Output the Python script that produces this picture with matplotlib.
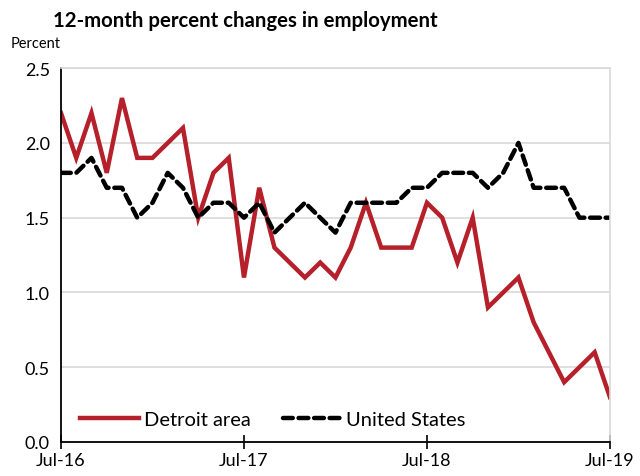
import matplotlib.pyplot as plt
import numpy as np

# Meses: Jul-16 a Jul-19 (37 puntos mensuales)
meses = np.arange(37)
etiquetas_x = ['Jul-16', 'Jul-17', 'Jul-18', 'Jul-19']
pos_etiquetas = [0, 12, 24, 36]

detroit = [2.2, 1.9, 2.2, 1.8, 2.3, 1.9, 1.9, 2.0, 2.1, 1.5, 1.8, 1.9,
           1.1, 1.7, 1.3, 1.2, 1.1, 1.2, 1.1, 1.3, 1.6, 1.3, 1.3, 1.3,
           1.6, 1.5, 1.2, 1.5, 0.9, 1.0, 1.1, 0.8, 0.6, 0.4, 0.5, 0.6, 0.3]

estados_unidos = [1.8, 1.8, 1.9, 1.7, 1.7, 1.5, 1.6, 1.8, 1.7, 1.5, 1.6, 1.6,
                  1.5, 1.6, 1.4, 1.5, 1.6, 1.5, 1.4, 1.6, 1.6, 1.6, 1.6, 1.7,
                  1.7, 1.8, 1.8, 1.8, 1.7, 1.8, 2.0, 1.7, 1.7, 1.7, 1.5, 1.5, 1.5]

plt.rcParams['font.family'] = ['Lato', 'DejaVu Sans']

fig = plt.figure(figsize=(6.4, 4.77), dpi=100)
ax = fig.add_axes([0.0953, 0.0713, 0.8577, 0.7837])

# Líneas
ax.plot(meses, detroit, color='#B5202A', linewidth=3.2, label='Detroit area',
        solid_joinstyle='miter')
ax.plot(meses, estados_unidos, color='black', linewidth=3.2, linestyle=(0, (2.2, 1.3)),
        label='United States', dash_capstyle='round')

# Ejes
ax.set_xlim(0, 36)
ax.set_ylim(0, 2.5)
ax.set_yticks(np.arange(0, 2.51, 0.5))
ax.set_yticklabels([f'{v:.1f}' for v in np.arange(0, 2.51, 0.5)], fontsize=13)
ax.set_xticks(pos_etiquetas)
ax.set_xticklabels(etiquetas_x, fontsize=13)
ax.tick_params(axis='x', direction='inout', length=10, width=1.2, pad=2)
ax.tick_params(axis='y', length=0, pad=8)
ax.grid(axis='y', color='#D9D9D9', linewidth=1.2)
ax.set_axisbelow(True)

for lado in ['top', 'right']:
    ax.spines[lado].set_color('#D9D9D9')
    ax.spines[lado].set_linewidth(1.2)
for lado in ['left', 'bottom']:
    ax.spines[lado].set_color('black')
    ax.spines[lado].set_linewidth(1.3)

# Leyenda
ax.legend(loc='lower left', bbox_to_anchor=(0.035, 0.037), ncol=2, frameon=False,
          borderaxespad=0, borderpad=0, fontsize=14.5, handlelength=2.9,
          columnspacing=1.6, handletextpad=0.25)

# Título y etiqueta
fig.text(0.383, 0.955, '12-month percent changes in employment', ha='center', va='center',
         fontsize=14.7, fontweight='bold')
fig.text(0.016, 0.908, 'Percent', ha='left', va='center', fontsize=10.5)

plt.savefig('out.png', dpi=100)
